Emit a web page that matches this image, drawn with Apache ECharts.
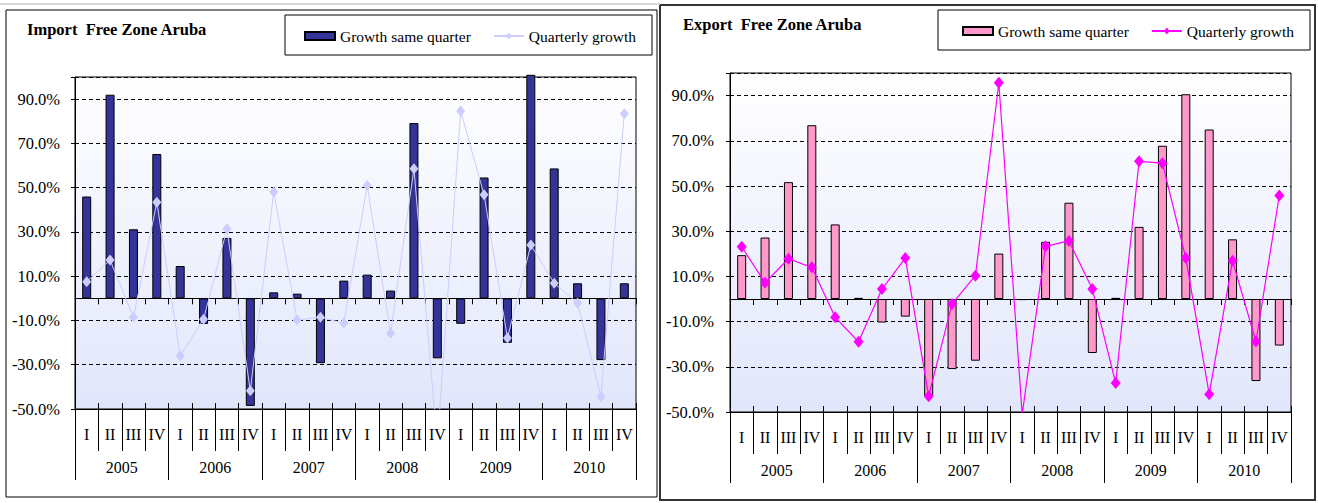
<!DOCTYPE html>
<html><head><meta charset="utf-8">
<script src="https://cdn.jsdelivr.net/npm/echarts@6/dist/echarts.min.js"></script>
<style>html,body{margin:0;padding:0;background:#fff}#c{width:1318px;height:503px}</style>
</head><body><div id="c"></div>
<script>
const quarters = ['I','II','III','IV','I','II','III','IV','I','II','III','IV','I','II','III','IV','I','II','III','IV','I','II','III','IV'];
const years = ['2005','2006','2007','2008','2009','2010'];
const importSameQuarter = [46, 92, 31.2, 65.2, 14.6, -11.6, 27.3, -48.6, 2.7, 2.1, -29.3, 8.0, 10.7, 3.5, 79.2, -27.1, -11.5, 54.6, -20.1, 101, 58.7, 6.8, -27.9, 6.8];
const importQuarterly = [7.5, 17.3, -8.6, 43.4, -25.9, -9.4, 31.4, -41.8, 48.0, -9.8, -8.6, -11.2, 51.0, -15.8, 58.5, -66, 84.6, 46.8, -17.9, 24.1, 6.8, -2.1, -44.5, 83.4];
const exportSameQuarter = [19.4, 27.2, 51.7, 76.9, 33.0, 0.5, -10.4, -7.8, -43, -31.0, -27.3, 20.1, -0.5, 25.3, 42.6, -23.9, 0.5, 31.9, 67.8, 90.6, 75.0, 26.4, -36.3, -20.6];
const exportQuarterly = [23.1, 7.2, 17.8, 14.0, -8.1, -18.9, 4.4, 18.1, -43.0, -2.2, 10.3, 95.7, -51, 23.3, 25.7, 4.4, -37.2, 60.9, 60.1, 18.1, -42.1, 16.9, -18.8, 45.8];
const legendLabels = {impSame:'Growth same quarter', impQ:'Quarterly growth', expSame:'Growth same quarter', expQ:'Quarterly growth'};
const titles = ['Import  Free Zone Aruba', 'Export  Free Zone Aruba'];

const FONT = 'Liberation Serif';
const chart = echarts.init(document.getElementById('c'), null, {renderer:'svg'});
const bg = {type:'linear', x:0, y:0, x2:0, y2:1, colorStops:[{offset:0, color:'#ffffff'},{offset:1, color:'#e1e6fb'}]};

function grid(left, top, height){
  return {left:left, top:top, width:561, height:height, show:true, backgroundColor:bg, borderColor:'#000', borderWidth:1, containLabel:false};
}
function yAx(gi, margin){
  return {type:'value', gridIndex:gi, min:-50, max:100, interval:20,
    axisLine:{show:true, lineStyle:{color:'#000', width:1}},
    axisTick:{show:true, length:4, lineStyle:{color:'#000'}},
    axisLabel:{margin:margin, fontFamily:FONT, fontSize:16.5, color:'#000',
      formatter:v => v > 99 ? '' : v.toFixed(1) + '%'},
    splitLine:{show:true, lineStyle:{color:'#000', type:[4,3], width:1}}};
}
function xAxes(gi){
  return [
    {type:'category', gridIndex:gi, data:quarters, position:'bottom',
      axisLine:{onZero:false, lineStyle:{color:'#000', width:1}},
      axisTick:{show:true, interval:0, length:42, lineStyle:{color:'#000'}},
      axisLabel:{interval:0, margin:17, fontFamily:FONT, fontSize:16, color:'#000'},
      splitLine:{show:false}},
    {type:'category', gridIndex:gi, data:years, position:'bottom',
      axisLine:{show:false, onZero:false},
      axisTick:{show:true, interval:0, length:71, lineStyle:{color:'#000'}},
      axisLabel:{interval:0, margin:50, fontFamily:FONT, fontSize:16, color:'#000'},
      splitLine:{show:false}},
    {type:'category', gridIndex:gi, data:quarters, position:'bottom',
      axisLine:{show:true, onZero:true, lineStyle:{color:'#000', width:1}},
      axisTick:{show:true, interval:0, length:6, lineStyle:{color:'#000'}},
      axisLabel:{show:false}, splitLine:{show:false}},
    {type:'category', gridIndex:gi, data:quarters, position:'bottom',
      axisLine:{show:false, onZero:false},
      axisTick:{show:true, inside:true, interval:0, length:6, lineStyle:{color:'#000'}},
      axisLabel:{show:false}, splitLine:{show:false}}
  ];
}

const option = {
  animation:false,
  title:[
    {text:titles[0], left:22, top:16, textStyle:{fontFamily:FONT, fontWeight:'bold', fontSize:16.5, color:'#000'}},
    {text:titles[1], left:678, top:11, textStyle:{fontFamily:FONT, fontWeight:'bold', fontSize:16.5, color:'#000'}}
  ],
  legend:[
    {left:299, top:23, itemWidth:30, itemHeight:8, itemGap:22,
      textStyle:{fontFamily:FONT, fontSize:15.5, color:'#000'},
      formatter:n => legendLabels[n],
      data:[{name:'impSame', icon:'rect'}, {name:'impQ'}]},
    {left:957, top:18, itemWidth:30, itemHeight:8, itemGap:22,
      textStyle:{fontFamily:FONT, fontSize:15.5, color:'#000'},
      formatter:n => legendLabels[n],
      data:[{name:'expSame', icon:'rect'}, {name:'expQ'}]}
  ],
  graphic:[
    {type:'line', shape:{x1:0, y1:4, x2:660, y2:4}, style:{stroke:'#d8d8d8', lineWidth:2}, silent:true},
    {type:'rect', shape:{x:6, y:10, width:651, height:487}, style:{fill:'none', stroke:'#000', lineWidth:1}, silent:true, z:-1},
    {type:'rect', shape:{x:660, y:5, width:655, height:495}, style:{fill:'none', stroke:'#333', lineWidth:2}, silent:true, z:-1},
    {type:'rect', shape:{x:285, y:15, width:367, height:40}, style:{fill:'none', stroke:'#000', lineWidth:1}, silent:true},
    {type:'rect', shape:{x:938, y:10, width:372, height:40}, style:{fill:'none', stroke:'#000', lineWidth:1}, silent:true}
  ],
  grid:[grid(75, 77, 332), grid(730, 73, 339)],
  xAxis:[...xAxes(0), ...xAxes(1)],
  yAxis:[yAx(0, 15), yAx(1, 16)],
  series:[
    {name:'impSame', type:'bar', xAxisIndex:0, yAxisIndex:0, data:importSameQuarter, barWidth:9, clip:false,
      itemStyle:{color:'#333399', borderColor:'#000', borderWidth:1}, z:2},
    {name:'impQ', type:'line', xAxisIndex:0, yAxisIndex:0, data:importQuarterly, symbol:'diamond', symbolSize:[9,11],
      lineStyle:{color:'#ccccff', width:1}, itemStyle:{color:'#ccccff'}, z:3},
    {name:'expSame', type:'bar', xAxisIndex:4, yAxisIndex:1, data:exportSameQuarter, barWidth:9,
      itemStyle:{color:'#ff99cc', borderColor:'#000', borderWidth:1}, z:2},
    {name:'expQ', type:'line', xAxisIndex:4, yAxisIndex:1, data:exportQuarterly, symbol:'diamond', symbolSize:[10,12],
      lineStyle:{color:'#ff00ff', width:1.2}, itemStyle:{color:'#ff00ff'}, z:3}
  ]
};
chart.setOption(option);
</script></body></html>
